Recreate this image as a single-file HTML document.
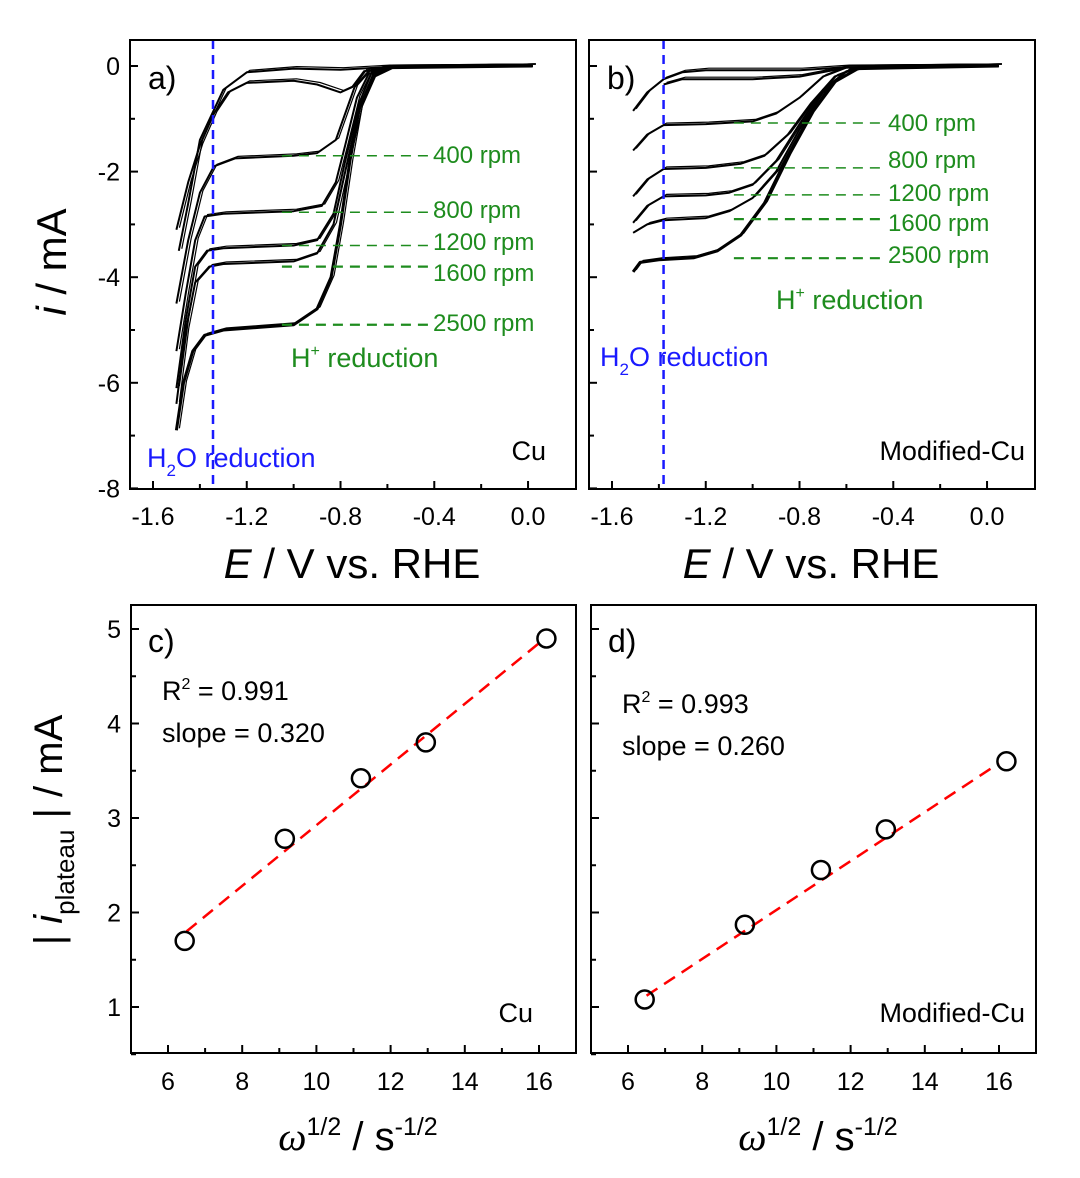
<!DOCTYPE html>
<html><head><meta charset="utf-8"><style>
html,body{margin:0;padding:0;background:#fff;}
svg{display:block;font-family:"Liberation Sans",Arial,sans-serif;}
</style></head><body>
<svg id="fig" width="1080" height="1178" viewBox="0 0 1080 1178" xmlns="http://www.w3.org/2000/svg"></svg>
<script>
// ---------- data ----------
const rpmLabels = ["400 rpm","800 rpm","1200 rpm","1600 rpm","2500 rpm"];
const aPlateau = [-1.7,-2.77,-3.4,-3.8,-4.9];
const bPlateau = [-1.08,-1.93,-2.44,-2.9,-3.64];
const aCurves = [
 [[-1.5,-3.1],[-1.45,-2.2],[-1.4,-1.5],[-1.34,-0.9],[-1.28,-0.5],[-1.2,-0.32],[-1.0,-0.28],[-0.9,-0.35],[-0.8,-0.5],[-0.75,-0.4],[-0.7,-0.1],[-0.6,-0.03],[0.02,0]],
 [[-1.49,-3.5],[-1.45,-2.6],[-1.4,-1.4],[-1.3,-0.45],[-1.2,-0.12],[-1.0,-0.05],[-0.8,-0.07],[-0.6,-0.02],[0.02,0]],
 [[-1.5,-4.5],[-1.45,-3.3],[-1.4,-2.4],[-1.34,-1.9],[-1.25,-1.75],[-1.0,-1.7],[-0.9,-1.65],[-0.82,-1.4],[-0.78,-0.9],[-0.74,-0.4],[-0.68,-0.1],[-0.6,-0.02],[0.02,0]],
 [[-1.5,-5.4],[-1.46,-4.3],[-1.42,-3.3],[-1.38,-2.85],[-1.3,-2.8],[-1.0,-2.75],[-0.88,-2.65],[-0.82,-2.2],[-0.78,-1.5],[-0.73,-0.6],[-0.68,-0.15],[-0.6,-0.03],[0.02,0]],
 [[-1.5,-6.1],[-1.46,-4.8],[-1.42,-3.8],[-1.37,-3.5],[-1.3,-3.45],[-1.0,-3.4],[-0.9,-3.3],[-0.83,-2.8],[-0.78,-1.8],[-0.72,-0.7],[-0.67,-0.15],[-0.58,-0.03],[0.02,0]],
 [[-1.5,-6.4],[-1.46,-5.0],[-1.42,-4.1],[-1.36,-3.8],[-1.3,-3.75],[-1.0,-3.7],[-0.9,-3.55],[-0.83,-3.0],[-0.78,-2.0],[-0.72,-0.8],[-0.66,-0.15],[-0.58,-0.03],[0.02,0]],
 [[-1.5,-6.9],[-1.47,-6.0],[-1.43,-5.4],[-1.38,-5.1],[-1.3,-5.0],[-1.15,-4.95],[-1.0,-4.9],[-0.9,-4.6],[-0.84,-4.0],[-0.8,-3.0],[-0.76,-1.8],[-0.72,-0.8],[-0.66,-0.2],[-0.58,-0.03],[0.02,0]]
];
const bCurves = [
 [[-1.51,-0.85],[-1.45,-0.5],[-1.38,-0.25],[-1.3,-0.12],[-1.2,-0.08],[-0.8,-0.08],[-0.6,-0.02],[0.05,0]],
 [[-1.38,-0.35],[-1.3,-0.25],[-1.0,-0.25],[-0.8,-0.2],[-0.6,-0.03],[0.05,0]],
 [[-1.51,-1.6],[-1.45,-1.3],[-1.38,-1.12],[-1.2,-1.1],[-1.0,-1.05],[-0.9,-0.9],[-0.8,-0.6],[-0.7,-0.2],[-0.6,-0.03],[0.05,0]],
 [[-1.51,-2.47],[-1.45,-2.15],[-1.38,-1.95],[-1.2,-1.93],[-1.05,-1.85],[-0.95,-1.7],[-0.85,-1.3],[-0.75,-0.7],[-0.65,-0.2],[-0.55,-0.03],[0.05,0]],
 [[-1.51,-2.97],[-1.45,-2.65],[-1.38,-2.47],[-1.2,-2.45],[-1.1,-2.4],[-1.0,-2.25],[-0.9,-1.8],[-0.8,-1.1],[-0.7,-0.45],[-0.6,-0.1],[-0.5,-0.02],[0.05,0]],
 [[-1.51,-3.16],[-1.45,-3.0],[-1.38,-2.92],[-1.2,-2.88],[-1.1,-2.75],[-1.0,-2.5],[-0.9,-2.0],[-0.8,-1.2],[-0.7,-0.5],[-0.6,-0.1],[-0.5,-0.02],[0.05,0]],
 [[-1.51,-3.9],[-1.48,-3.72],[-1.4,-3.67],[-1.25,-3.63],[-1.15,-3.5],[-1.05,-3.2],[-0.95,-2.6],[-0.85,-1.7],[-0.75,-0.9],[-0.65,-0.3],[-0.55,-0.05],[0.05,0]]
];
const omega = [6.45,9.15,11.2,12.95,16.2];
const cPlateau = [1.7,2.78,3.42,3.8,4.9];
const dPlateau = [1.08,1.87,2.45,2.88,3.6];
const cFit = [[6.5,1.8],[16.0,4.85]];
const dFit = [[6.5,1.12],[16.0,3.58]];
const eTicks = ["-1.6","-1.2","-0.8","-0.4","0.0"];
const iTicks = ["0","-2","-4","-6","-8"];
const wTicks = ["6","8","10","12","14","16"];
const pTicks = ["1","2","3","4","5"];

// ---------- helpers ----------
const NS="http://www.w3.org/2000/svg";
const svg=document.getElementById('fig');
function mk(tag,attrs,parent){const e=document.createElementNS(NS,tag);for(const k in attrs)e.setAttribute(k,attrs[k]);(parent||svg).appendChild(e);return e;}
function txt(x,y,s,size,fill,anchor,parent){const t=mk('text',{x:x,y:y,'font-size':size,fill:fill||'#000','text-anchor':anchor||'start'},parent);t.textContent=s;return t;}

const GREEN='#1e8c1e', BLUE='#1a1aff';
function topX(off){return E=>off+153+(E+1.6)*234.4;}
const topY=i=>66-i*52.8;
const botY=v=>629-(v-5)*94.5;
function botX(off){return w=>off+168+(w-6)*37.1;}

function frame(x0,y0,x1,y1,name){const r=mk('rect',{x:x0,y:y0,width:x1-x0,height:y1-y0,fill:'none',stroke:'#000','stroke-width':2});}

function topPanel(off,curves,plateaus,blueE,letter,mat,labelX,dashStartE,labelYs,hY,hX,wX,wY,matX,showY){
  const X=topX(off); const g=mk('g',{});
  
  
  frame(off+130,40,off+576,489,'frame-'+letter);
  for(let k=0;k<=8;k++){const E=-1.6+k*0.2;const x=X(E);const L=k%2==0?8:5;mk('line',{x1:x,y1:489,x2:x,y2:489-L,stroke:'#000','stroke-width':2},g);}
  for(let k=0;k<=8;k++){const y=topY(-k);const L=k%2==0?8:5;mk('line',{x1:off+130,y1:y,x2:off+130+L,y2:y,stroke:'#000','stroke-width':2},g);}
  eTicks.forEach((s,k)=>{const t=txt(X(-1.6+0.4*k),525,s,25,'#000','middle',g);});
  if(showY) iTicks.forEach((s,k)=>{const t=txt(off+120,topY(-2*k)+9,s,25,'#000','end',g);});
  curves.forEach((c,ci)=>{
    const d=c.map((p,j)=>(j?'L':'M')+X(p[0]).toFixed(1)+','+topY(p[1]).toFixed(1)).join(' ');
    const p=mk('path',{d:d,fill:'none',stroke:'#000','stroke-width':ci==curves.length-1?3:2,'stroke-linejoin':'round'},g);
    
    
    const p2=mk('path',{d:d,fill:'none',stroke:'#000','stroke-width':1.2,transform:'translate(3,-2)'},g);
    
    
  });
  plateaus.forEach((v,k)=>{
    const l=mk('line',{x1:X(dashStartE),y1:topY(v),x2:labelX-4,y2:topY(v),stroke:GREEN,'stroke-width':k>=3?2.2:1.5,'stroke-dasharray':'10,7'},g);
    
    
    const t=txt(labelX,labelYs[k],rpmLabels[k],24,GREEN,'start',g);
    
    
  });
  const bx=X(blueE);
  const bl=mk('line',{x1:bx,y1:40,x2:bx,y2:489,stroke:BLUE,'stroke-width':2.5,'stroke-dasharray':'9,6'},g);
  
  const h=mk('text',{x:hX,y:hY,'font-size':27,fill:GREEN},g);
  h.innerHTML='H<tspan dy="-11" font-size="16">+</tspan><tspan dy="11"> reduction</tspan>';
  
  const w=mk('text',{x:wX,y:wY,'font-size':27,fill:BLUE},g);
  w.innerHTML='H<tspan dy="9" font-size="17">2</tspan><tspan dy="-9">O reduction</tspan>';
  
  const m=txt(matX,460,mat,27,'#000','end',g);
  const lt=txt(off+148,89,letter+')',32,'#000','start',g);
  const xt=mk('text',{x:off+352,y:578,'font-size':42,'text-anchor':'middle'},g);
  xt.innerHTML='<tspan font-style="italic">E</tspan> / V vs. RHE';
  
}

function botPanel(off,vals,fit,letter,mat,r2,slope,r2y,showY,matX){
  const X=botX(off); const g=mk('g',{});
  
  
  frame(off+131,605,off+576,1053,'frame-'+letter);
  for(let w=5;w<=17;w++){const x=X(w);if(x<=off+132||x>=off+575)continue;const L=w%2==0?8:5;mk('line',{x1:x,y1:1053,x2:x,y2:1053-L,stroke:'#000','stroke-width':2},g);}
  for(let k=1;k<=10;k++){const v=k*0.5;const y=botY(v);const L=k%2==0?8:5;mk('line',{x1:off+131,y1:y,x2:off+131+L,y2:y,stroke:'#000','stroke-width':2},g);}
  wTicks.forEach(s=>{const t=txt(X(+s),1090,s,25,'#000','middle',g);});
  if(showY) pTicks.forEach(s=>{const t=txt(off+121,botY(+s)+9,s,25,'#000','end',g);});
  const fl=mk('line',{x1:X(fit[0][0]),y1:botY(fit[0][1]),x2:X(fit[1][0]),y2:botY(fit[1][1]),stroke:'#f00','stroke-width':2.5,'stroke-dasharray':'13,8'},g);
  
  vals.forEach((v,k)=>{const c=mk('circle',{cx:X(omega[k]),cy:botY(v),r:9,fill:'none',stroke:'#000','stroke-width':2.5},g);
    });
  const a=mk('text',{x:off+162,y:r2y,'font-size':27},g);
  a.innerHTML='R<tspan dy="-11" font-size="16">2</tspan><tspan dy="11"> = '+r2+'</tspan>';
  
  const b=txt(off+162,r2y+42,'slope = '+slope,27,'#000','start',g);
  const m=txt(matX,1022,mat,27,'#000','end',g);
  const lt=txt(off+148,652,letter+')',32,'#000','start',g);
  const xt=mk('text',{x:off+358,y:1150,'font-size':40,'text-anchor':'middle'},g);
  xt.innerHTML='<tspan font-family="Liberation Serif" font-style="italic">ω</tspan><tspan dy="-15" font-size="25">1/2</tspan><tspan dy="15"> / s</tspan><tspan dy="-15" font-size="25">-1/2</tspan>';
  
}

topPanel(0,aCurves,aPlateau,-1.344,'a','Cu',433,-1.05,[163,218,250,281,331],367,291,147,467,546,true);
topPanel(459,bCurves,bPlateau,-1.38,'b','Modified-Cu',888,-1.08,[131,168,201,231,263],309,776,600,366,1025,false);
botPanel(0,cPlateau,cFit,'c','Cu','0.991','0.320',700,true,533);
botPanel(460,dPlateau,dFit,'d','Modified-Cu','0.993','0.260',713,false,1025);

const ya=mk('text',{x:0,y:0,'font-size':42,'text-anchor':'middle',transform:'translate(66,262) rotate(-90)'});
ya.innerHTML='<tspan font-style="italic">i</tspan> / mA';

const yc=mk('text',{x:0,y:0,'font-size':40,'text-anchor':'middle',transform:'translate(62,830) rotate(-90)'});
yc.innerHTML='| <tspan font-style="italic">i</tspan><tspan dy="12" font-size="26">plateau</tspan><tspan dy="-12"> | / mA</tspan>';

</script>
</body></html>
